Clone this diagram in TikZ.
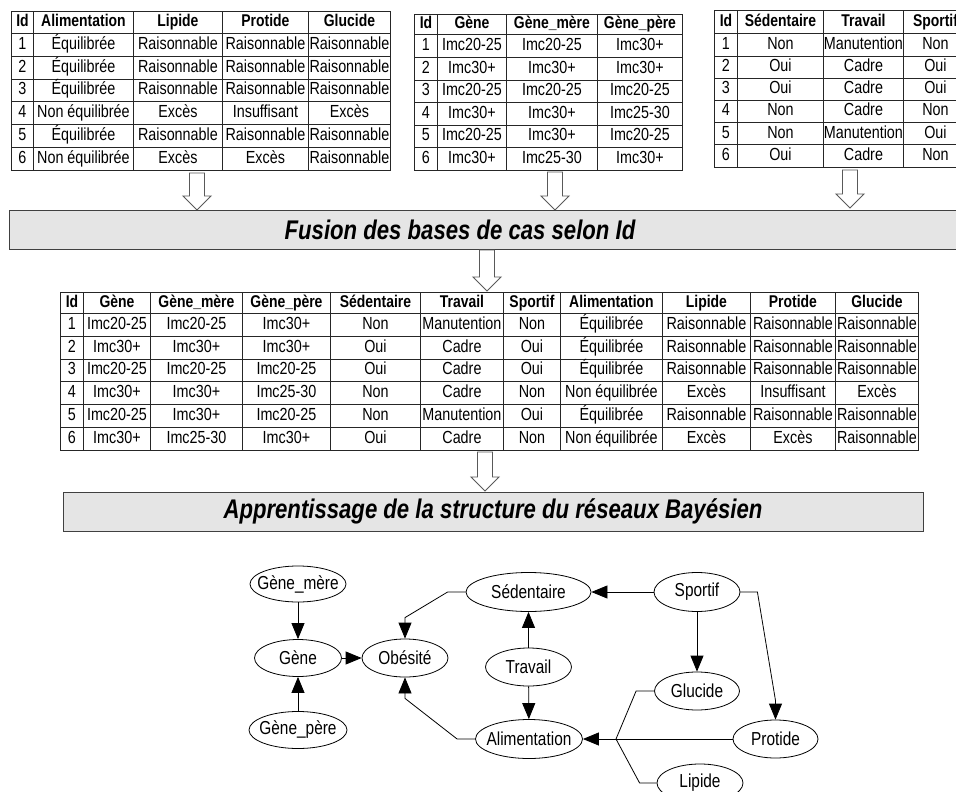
\documentclass[tikz,border=0pt]{standalone}
\usepackage{fontspec}
\setmainfont{Liberation Sans}[FakeStretch=0.82]
\usetikzlibrary{matrix,arrows.meta,shapes.geometric}

\tikzset{
  cell/.style={draw=black!85, line width=0.9pt, inner sep=0pt, anchor=center,
    minimum height=22.8pt, text height=12.6pt, text depth=3.6pt,
    font=\fontsize{17.5}{20}\selectfont},
  hd/.style={font=\fontsize{17}{20}\selectfont\bfseries},
  table/.style={matrix of nodes, nodes={cell}, inner sep=0pt, outer sep=0pt,
    column sep=-0.9pt, row sep=-0.9pt, anchor=north west,
    row 1/.style={nodes={hd}}},
  bannerbox/.style={draw=black!75, line width=1pt, fill=black!10},
  bannertext/.style={font=\fontsize{27}{30}\selectfont\bfseries\itshape},
  blockline/.style={draw=black!65, line width=0.9pt, fill=white, line join=miter},
  pics/downarrow/.style={code={
    \draw[blockline] (-7.5,0) -- (-7.5,#1-14) -- (-14,#1-14) -- (0,#1)
      -- (14,#1-14) -- (7.5,#1-14) -- (7.5,0) -- cycle;}},
  var/.style={ellipse, draw=black, line width=0.8pt, inner sep=0pt,
    font=\fontsize{18.8}{21}\selectfont,
    execute at begin node={\hbox to 0pt\bgroup\hss},
    execute at end node={\hss\egroup}},
  edge/.style={draw=black, line width=0.8pt, -{Triangle[length=16pt,width=13pt]}},
  plain/.style={draw=black, line width=0.8pt},
}

\begin{document}
\begin{tikzpicture}[x=1pt, y=-1pt]
\useasboundingbox (0,0) rectangle (956,792);

% ---- case base: nutrition ----
\matrix (tabA) [table,
  row 1/.style={nodes={hd, minimum height=22pt}},
  column 1/.style={nodes={minimum width=22pt}},
  column 2/.style={nodes={minimum width=100pt}},
  column 3/.style={nodes={minimum width=89pt}},
  column 4/.style={nodes={minimum width=86pt}},
  column 5/.style={nodes={minimum width=82pt}}] at (11,11) {
  Id & Alimentation & Lipide & Protide & Glucide \\
  1 & Équilibrée & Raisonnable & Raisonnable & Raisonnable \\
  2 & Équilibrée & Raisonnable & Raisonnable & Raisonnable \\
  3 & Équilibrée & Raisonnable & Raisonnable & Raisonnable \\
  4 & Non équilibrée & Excès & Insuffisant & Excès \\
  5 & Équilibrée & Raisonnable & Raisonnable & Raisonnable \\
  6 & Non équilibrée & Excès & Excès & Raisonnable \\
};

% ---- case base: genetics ----
\matrix (tabB) [table,
  row 1/.style={nodes={hd, minimum height=20.8pt}},
  nodes={minimum height=22.6pt},
  column 1/.style={nodes={minimum width=23pt}},
  column 2/.style={nodes={minimum width=69pt}},
  column 3/.style={nodes={minimum width=91pt}},
  column 4/.style={nodes={minimum width=85pt}}] at (414,13.5) {
  Id & Gène & Gène\_mère & Gène\_père \\
  1 & Imc20-25 & Imc20-25 & Imc30+ \\
  2 & Imc30+ & Imc30+ & Imc30+ \\
  3 & Imc20-25 & Imc20-25 & Imc20-25 \\
  4 & Imc30+ & Imc30+ & Imc25-30 \\
  5 & Imc20-25 & Imc30+ & Imc20-25 \\
  6 & Imc30+ & Imc25-30 & Imc30+ \\
};

% ---- case base: lifestyle ----
\matrix (tabC) [table,
  row 1/.style={nodes={hd, minimum height=23.3pt}},
  nodes={minimum height=22.2pt},
  column 1/.style={nodes={minimum width=23pt}},
  column 2/.style={nodes={minimum width=86pt}},
  column 3/.style={nodes={minimum width=80pt}},
  column 4/.style={nodes={minimum width=64pt}}] at (714,10) {
  Id & Sédentaire & Travail & Sportif \\
  1 & Non & Manutention & Non \\
  2 & Oui & Cadre & Oui \\
  3 & Oui & Cadre & Oui \\
  4 & Non & Cadre & Non \\
  5 & Non & Manutention & Oui \\
  6 & Oui & Cadre & Non \\
};

% ---- merge step ----
\pic at (197,173) {downarrow=37};
\pic at (555,172) {downarrow=38};
\pic at (850,170) {downarrow=38};
\draw[bannerbox] (9,210) rectangle (990,249);
\node (fusion) [bannertext] at (460,229.5) {Fusion des bases de cas selon Id};
\pic at (487,250) {downarrow=41};

% ---- merged case base ----
\matrix (tabD) [table,
  row 1/.style={nodes={hd, minimum height=21pt}},
  column 1/.style={nodes={minimum width=23pt}},
  column 2/.style={nodes={minimum width=67pt}},
  column 3/.style={nodes={minimum width=92pt}},
  column 4/.style={nodes={minimum width=88pt}},
  column 5/.style={nodes={minimum width=90pt}},
  column 6/.style={nodes={minimum width=83pt}},
  column 7/.style={nodes={minimum width=57pt}},
  column 8/.style={nodes={minimum width=102pt}},
  column 9/.style={nodes={minimum width=88pt}},
  column 10/.style={nodes={minimum width=85pt}},
  column 11/.style={nodes={minimum width=83pt}}] at (60,292) {
  Id & Gène & Gène\_mère & Gène\_père & Sédentaire & Travail & Sportif & Alimentation & Lipide & Protide & Glucide \\
  1 & Imc20-25 & Imc20-25 & Imc30+ & Non & Manutention & Non & Équilibrée & Raisonnable & Raisonnable & Raisonnable \\
  2 & Imc30+ & Imc30+ & Imc30+ & Oui & Cadre & Oui & Équilibrée & Raisonnable & Raisonnable & Raisonnable \\
  3 & Imc20-25 & Imc20-25 & Imc20-25 & Oui & Cadre & Oui & Équilibrée & Raisonnable & Raisonnable & Raisonnable \\
  4 & Imc30+ & Imc30+ & Imc25-30 & Non & Cadre & Non & Non équilibrée & Excès & Insuffisant & Excès \\
  5 & Imc20-25 & Imc30+ & Imc20-25 & Non & Manutention & Oui & Équilibrée & Raisonnable & Raisonnable & Raisonnable \\
  6 & Imc30+ & Imc25-30 & Imc30+ & Oui & Cadre & Non & Non équilibrée & Excès & Excès & Raisonnable \\
};

% ---- learning step ----
\pic at (485,452) {downarrow=39};
\node (learn) [bannerbox, bannertext, minimum width=860pt, minimum height=39pt, inner sep=0pt]
  at (493,511.5) {Apprentissage de la structure du réseaux Bayésien};

% ---- Bayesian network ----
\node (gmere) [var, minimum width=96pt, minimum height=36pt] at (298,584) {Gène\_mère};
\node (gene)  [var, minimum width=87pt, minimum height=37pt] at (298,658) {Gène};
\node (gpere) [var, minimum width=98pt, minimum height=37pt] at (298,730) {Gène\_père};
\node (obes)  [var, minimum width=86pt, minimum height=38pt] at (405,658) {Obésité};
\node (sed)   [var, minimum width=125pt, minimum height=39pt] at (528.5,592) {Sédentaire};
\node (trav)  [var, minimum width=86pt, minimum height=38pt] at (528.5,667) {Travail};
\node (alim)  [var, minimum width=107pt, minimum height=39pt] at (529,739) {Alimentation};
\node (sport) [var, minimum width=86pt, minimum height=39pt] at (697,592) {Sportif};
\node (gluc)  [var, minimum width=85pt, minimum height=38pt] at (697,691) {Glucide};
\node (prot)  [var, minimum width=85pt, minimum height=38pt] at (775.5,739) {Protide};
\node (lip)   [var, minimum width=86pt, minimum height=38pt] at (700,783) {Lipide};

\draw[edge] (gmere) -- (gene);
\draw[edge] (gpere) -- (gene);
\draw[edge] (gene) -- (obes);
\draw[edge] (sed.west) -- ++(-18,0) -- ([yshift=21pt]obes.north) -- (obes.north);
\draw[edge] (alim.west) -- ++(-18,0) -- ([yshift=-21pt]obes.south) -- (obes.south);
\draw[edge] (trav) -- (sed);
\draw[edge] (trav) -- (alim);
\draw[edge] (sport) -- (sed);
\draw[edge] (sport) -- (gluc);
\draw[edge] (sport.east) -- ++(17,0) -- ([yshift=19pt]prot.north) -- (prot.north);

\coordinate (join) at (616,739);
\draw[plain] (gluc.west) -- ++(-18,0) -- (join);
\draw[plain] (prot.west) -- (join);
\draw[plain] (lip.west) -- ++(-17,0) -- (join);
\draw[edge] (join) -- (alim.east);
\end{tikzpicture}
\end{document}
